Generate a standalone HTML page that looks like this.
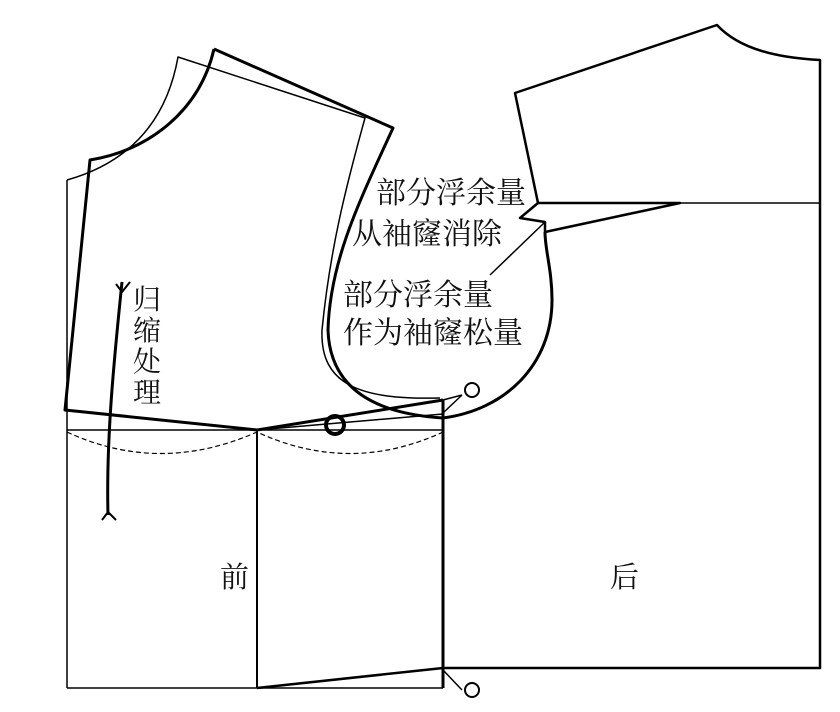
<!DOCTYPE html>
<html><head><meta charset="utf-8"><style>
html,body{margin:0;padding:0;background:#fff;}
svg{display:block}
text{font-family:"Liberation Serif","Noto Serif CJK SC",serif;fill:#111;}
</style></head><body>
<svg width="840" height="712" viewBox="0 0 840 712" xmlns="http://www.w3.org/2000/svg">
<g fill="none" stroke="#000" stroke-linejoin="round">
<path d="M67,180 C120,165 165,130 178,57 L365,118 C345,190 330,250 322,330 C320,385 360,400 440,398" stroke-width="1.5"/>
<line x1="67" y1="180" x2="67" y2="688" stroke-width="1.5"/>
<path d="M214,49 C200,110 150,150 90,160 L65,410 L257,430 L443,400" stroke-width="3"/>
<path d="M214,49 L393,128 C360,200 330,260 328,330 C330,392 380,414 443,418 C505,410 552,365 552,300 C552,270 545,250 545,232" stroke-width="3"/>
<path d="M538,203 L515,93 L717,25 C740,50 780,58 820,60 L820,668 L443,668" stroke-width="2.5"/>
<path d="M538,203 L820,203" stroke-width="1.5"/>
<path d="M538,203 L520,218 L545,222 L545,232 L680,203 L538,203" stroke-width="2.5"/>
<path d="M545,222 L490,275" stroke-width="1.5"/>
<line x1="67" y1="430" x2="443" y2="430" stroke-width="1.5"/>
<line x1="257" y1="430" x2="257" y2="688" stroke-width="2"/>
<line x1="443" y1="400" x2="443" y2="688" stroke-width="3"/>
<line x1="67" y1="688" x2="257" y2="688" stroke-width="1.5"/>
<path d="M257,688 L443,668" stroke-width="2.5"/>
<line x1="257" y1="688" x2="443" y2="688" stroke-width="1.5"/>
<path d="M67,432 Q160,475 257,432 Q350,475 443,432" stroke-width="1.2" stroke-dasharray="5,3"/>
<path d="M443,400 L462,395 M443,413 L462,395" stroke-width="1.5"/>
<circle cx="472" cy="390" r="7" stroke-width="2"/>
<path d="M443,670 L462,690" stroke-width="1.5"/>
<circle cx="472" cy="690" r="7" stroke-width="2"/>
<circle cx="335" cy="425" r="9" stroke-width="4"/>
<path d="M257,430 L443,414" stroke-width="1.5"/>
<path d="M122,282 C114,360 106,440 108,515" stroke-width="3"/>
<path d="M116,284 L122,292 L130,282 M102,520 L108,512 L116,520" stroke-width="2"/>
</g>
<text x="133" y="309" font-size="28">归</text>
<text x="133" y="340" font-size="28">缩</text>
<text x="133" y="371" font-size="28">处</text>
<text x="133" y="402" font-size="28">理</text>
<text x="376" y="203" font-size="30">部分浮余量</text>
<text x="352" y="244" font-size="30">从袖窿消除</text>
<text x="343" y="305" font-size="30">部分浮余量</text>
<text x="343" y="343" font-size="30">作为袖窿松量</text>
<text x="220" y="587" font-size="29">前</text>
<text x="610" y="587" font-size="29">后</text>
</svg>
</body></html>
